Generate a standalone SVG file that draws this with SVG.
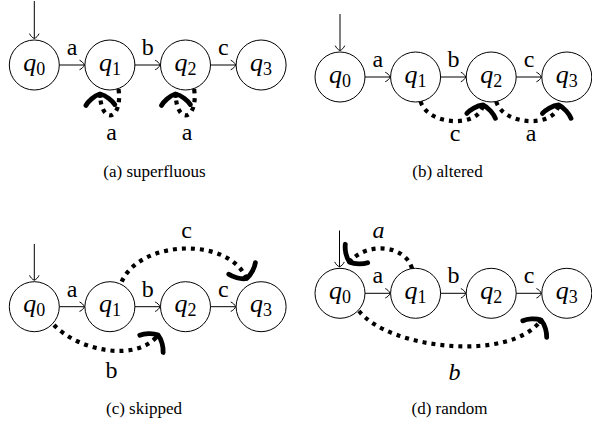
<svg xmlns="http://www.w3.org/2000/svg" width="592" height="428" viewBox="0 0 592 428" font-family="'Liberation Serif', 'DejaVu Serif', serif">
  <defs>
    <style>
      text { font-family: "Liberation Serif", "DejaVu Serif", serif; }
      .node circle { fill: #fff; stroke: #000; stroke-width: 1; }
      .q { font-size: 26px; font-style: italic; text-anchor: middle; }
      .q tspan { font-style: normal; font-size: 18px; }
      .lbl { font-size: 24px; text-anchor: middle; }
      .it { font-style: italic; }
      .cap { font-size: 17px; text-anchor: middle; }
      .edge { fill: none; stroke: #000; stroke-width: 1; marker-end: url(#to); }
      .dot { fill: none; stroke: #000; stroke-width: 4.2; stroke-dasharray: 4 5; marker-end: url(#toThick); }
    </style>
    <!-- thin curved "to" tip -->
    <marker id="to" markerUnits="userSpaceOnUse" orient="auto" markerWidth="12" markerHeight="12" refX="0" refY="0" style="overflow:visible">
      <path d="M -4.5,-4.6 C -3,-4 -0.5,-1.8 0,0 C -0.5,1.8 -3,4 -4.5,4.6" fill="none" stroke="#000" stroke-width="1" stroke-linecap="round"/>
    </marker>
    <!-- heavy curved "to" tip for the dotted transitions -->
    <marker id="toThick" markerUnits="userSpaceOnUse" orient="auto" markerWidth="40" markerHeight="40" refX="0" refY="0" style="overflow:visible">
      <path d="M -11,-14.5 C -7,-12 -1.5,-6 0,0 C -1.5,6 -7,12 -11,14.5" fill="none" stroke="#000" stroke-width="4.8" stroke-linecap="round" stroke-linejoin="round"/>
      <circle cx="-1" cy="0" r="3"/>
    </marker>
  </defs>

  <!-- (a) superfluous -->
  <g id="a-q0" class="node"><circle cx="34.3" cy="65" r="25"/><text class="q" x="34.3" y="70.5">q<tspan dy="4">0</tspan></text></g>
  <g id="a-q1" class="node"><circle cx="109.9" cy="65" r="25"/><text class="q" x="109.9" y="70.5">q<tspan dy="4">1</tspan></text></g>
  <g id="a-q2" class="node"><circle cx="185.5" cy="65" r="25"/><text class="q" x="185.5" y="70.5">q<tspan dy="4">2</tspan></text></g>
  <g id="a-q3" class="node"><circle cx="261.1" cy="65" r="25"/><text class="q" x="261.1" y="70.5">q<tspan dy="4">3</tspan></text></g>
  <g id="a-edges">
    <path class="edge" d="M 34.3,1 V 38.5"/>
    <path class="edge" d="M 59.3,65 H 84.4"/>
    <path class="edge" d="M 134.9,65 H 160"/>
    <path class="edge" d="M 210.5,65 H 235.6"/>
    <path class="dot" d="M 118.5,89 C 123,120 101,126 100,94"/>
    <path class="dot" d="M 194.1,89 C 198.6,120 176.6,126 175.6,94"/>
    <text class="lbl" x="72.1" y="55">a</text>
    <text class="lbl" x="147.7" y="55">b</text>
    <text class="lbl" x="223.3" y="55">c</text>
    <text class="lbl" x="111.5" y="140">a</text>
    <text class="lbl" x="187" y="140">a</text>
  </g>
  <text class="cap" x="154.5" y="177">(a) superfluous</text>

  <!-- (b) altered -->
  <g id="b-q0" class="node"><circle cx="340" cy="77" r="25"/><text class="q" x="340" y="82.5">q<tspan dy="4">0</tspan></text></g>
  <g id="b-q1" class="node"><circle cx="415.6" cy="77" r="25"/><text class="q" x="415.6" y="82.5">q<tspan dy="4">1</tspan></text></g>
  <g id="b-q2" class="node"><circle cx="491.2" cy="77" r="25"/><text class="q" x="491.2" y="82.5">q<tspan dy="4">2</tspan></text></g>
  <g id="b-q3" class="node"><circle cx="566.8" cy="77" r="25"/><text class="q" x="566.8" y="82.5">q<tspan dy="4">3</tspan></text></g>
  <g id="b-edges">
    <path class="edge" d="M 340,14 V 50.5"/>
    <path class="edge" d="M 365,77 H 390.1"/>
    <path class="edge" d="M 440.6,77 H 465.7"/>
    <path class="edge" d="M 516.2,77 H 541.3"/>
    <path class="dot" d="M 420.6,101.5 C 428,126 479,128 483,105"/>
    <path class="dot" d="M 496.2,101.5 C 503.6,126 554.6,128 558.6,105"/>
    <text class="lbl" x="377.8" y="67">a</text>
    <text class="lbl" x="453.4" y="67">b</text>
    <text class="lbl" x="529" y="67">c</text>
    <text class="lbl" x="455" y="141">c</text>
    <text class="lbl" x="531" y="141">a</text>
  </g>
  <text class="cap" x="447.5" y="177">(b) altered</text>

  <!-- (c) skipped -->
  <g id="c-q0" class="node"><circle cx="34.3" cy="306.7" r="25"/><text class="q" x="34.3" y="312.2">q<tspan dy="4">0</tspan></text></g>
  <g id="c-q1" class="node"><circle cx="109.9" cy="306.7" r="25"/><text class="q" x="109.9" y="312.2">q<tspan dy="4">1</tspan></text></g>
  <g id="c-q2" class="node"><circle cx="185.5" cy="306.7" r="25"/><text class="q" x="185.5" y="312.2">q<tspan dy="4">2</tspan></text></g>
  <g id="c-q3" class="node"><circle cx="261.1" cy="306.7" r="25"/><text class="q" x="261.1" y="312.2">q<tspan dy="4">3</tspan></text></g>
  <g id="c-edges">
    <path class="edge" d="M 34.3,244 V 280.2"/>
    <path class="edge" d="M 59.3,306.7 H 84.4"/>
    <path class="edge" d="M 134.9,306.7 H 160"/>
    <path class="edge" d="M 210.5,306.7 H 235.6"/>
    <path class="dot" d="M 121.7,281.7 C 140,240 228,236 246.5,278.5"/>
    <path class="dot" d="M 54,325 C 80,352 138,362 158,335"/>
    <text class="lbl" x="72.1" y="296.7">a</text>
    <text class="lbl" x="147.7" y="296.7">b</text>
    <text class="lbl" x="223.3" y="296.7">c</text>
    <text class="lbl" x="186.5" y="238">c</text>
    <text class="lbl" x="111.5" y="378">b</text>
  </g>
  <text class="cap" x="144" y="414">(c) skipped</text>

  <!-- (d) random -->
  <g id="d-q0" class="node"><circle cx="340" cy="293.3" r="25"/><text class="q" x="340" y="298.8">q<tspan dy="4">0</tspan></text></g>
  <g id="d-q1" class="node"><circle cx="415.6" cy="293.3" r="25"/><text class="q" x="415.6" y="298.8">q<tspan dy="4">1</tspan></text></g>
  <g id="d-q2" class="node"><circle cx="491.2" cy="293.3" r="25"/><text class="q" x="491.2" y="298.8">q<tspan dy="4">2</tspan></text></g>
  <g id="d-q3" class="node"><circle cx="566.8" cy="293.3" r="25"/><text class="q" x="566.8" y="298.8">q<tspan dy="4">3</tspan></text></g>
  <g id="d-edges">
    <path class="edge" d="M 339.5,230.5 V 266.8"/>
    <path class="edge" d="M 365,293.3 H 390.1"/>
    <path class="edge" d="M 440.6,293.3 H 465.7"/>
    <path class="edge" d="M 516.2,293.3 H 541.3"/>
    <path class="dot" d="M 412,268.5 C 405,244 366,242 349.5,262"/>
    <path class="dot" d="M 359,311 C 390,350 512,362 541,320"/>
    <text class="lbl" x="377.8" y="283.3">a</text>
    <text class="lbl" x="453.4" y="283.3">b</text>
    <text class="lbl" x="529" y="283.3">c</text>
    <text class="lbl it" x="378.5" y="238">a</text>
    <text class="lbl it" x="454.5" y="380">b</text>
  </g>
  <text class="cap" x="449.5" y="414">(d) random</text>
</svg>
